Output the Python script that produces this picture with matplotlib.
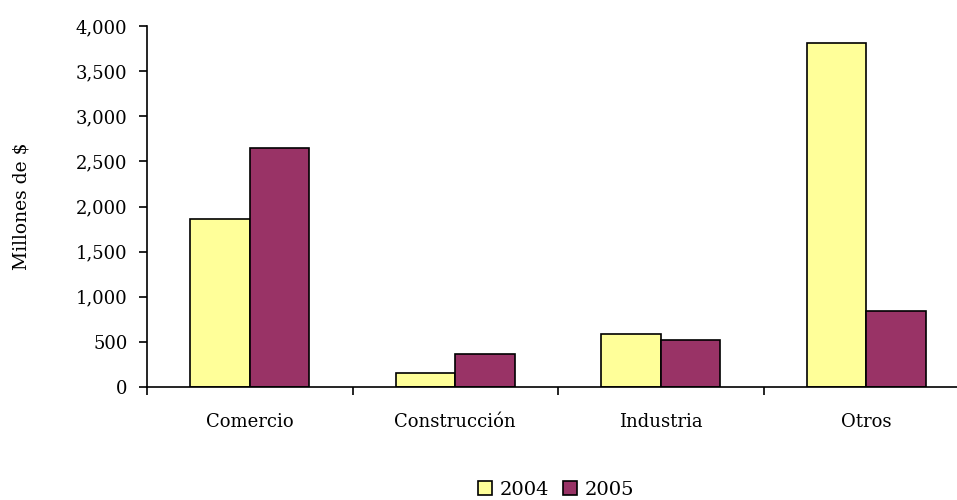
import matplotlib.pyplot as plt
import numpy as np

plt.rcParams['font.family'] = ['DejaVu Serif']

# Data
sectores = ['Comercio', 'Construcción', 'Industria', 'Otros']
valores_2004 = [1860, 150, 587, 3815]
valores_2005 = [2650, 365, 521, 846]
yticks = [0, 500, 1000, 1500, 2000, 2500, 3000, 3500, 4000]

fig = plt.figure(figsize=(9.57, 5.0), dpi=100)
ax = fig.add_axes([147 / 957, 113 / 500, 822 / 957, 361 / 500])

x = np.arange(len(sectores))
w = 0.29

ax.bar(x - w / 2, valores_2004, width=w, color='#FFFF99',
       edgecolor='black', linewidth=1.2, label='2004')
ax.bar(x + w / 2, valores_2005, width=w, color='#993366',
       edgecolor='black', linewidth=1.2, label='2005')

ax.set_xlim(-0.5, len(sectores) - 0.5)
ax.set_ylim(0, 4000)
ax.set_yticks(yticks)
ax.set_yticklabels([f"{v:,}" for v in yticks], fontsize=13)

# category ticks sit between the groups, labels at group centres
ax.set_xticks(np.arange(len(sectores) + 1) - 0.5)
ax.set_xticklabels([])
ax.set_xticks(x, minor=True)
ax.set_xticklabels(sectores, minor=True, fontsize=13)
ax.tick_params(axis='x', which='minor', length=0, pad=19)
ax.tick_params(axis='x', which='major', length=6, width=1.2, direction='out')
ax.tick_params(axis='y', length=6, width=1.2, pad=8)

for s in ['top', 'right']:
    ax.spines[s].set_visible(False)
for s in ['left', 'bottom']:
    ax.spines[s].set_linewidth(1.2)

ax.set_ylabel('Millones de $', fontsize=13.5)
ax.yaxis.set_label_coords(-0.142, 0.5)

fig.legend(loc='center', bbox_to_anchor=(556 / 957, 1 - 490 / 500),
           ncol=2, frameon=False, fontsize=14, handlelength=0.72,
           handleheight=0.72, handletextpad=0.4, columnspacing=0.7,
           borderpad=0)

fig.savefig('out.png', dpi=100)
